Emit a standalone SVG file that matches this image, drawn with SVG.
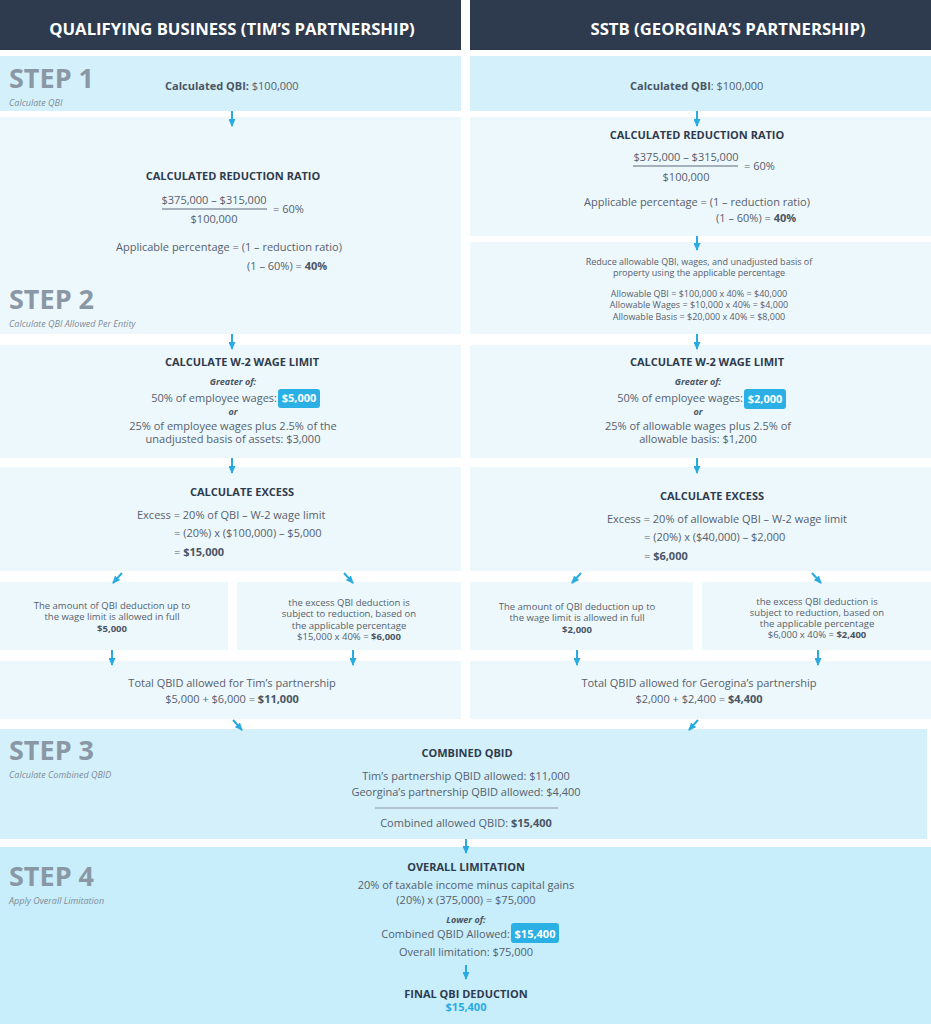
<svg xmlns="http://www.w3.org/2000/svg" width="931" height="1024" viewBox="0 0 931 1024">
<defs>
<marker id="ah" markerUnits="userSpaceOnUse" markerWidth="8" markerHeight="7" refX="7" refY="3.5" orient="auto">
<path d="M0,0 L8,3.5 L0,7 z" fill="#29abe2"/>
</marker>
<style>
text{font-family:"Open Sans","Liberation Sans",sans-serif;fill:#56606c;font-size:11px}
.h{font-weight:bold;fill:#2f3b4d}
.c{text-anchor:middle}
.e{text-anchor:end}
.b{font-weight:bold;fill:#4a5563}
.hd{font-weight:bold;fill:#ffffff;font-size:16.7px;text-anchor:middle}
.st{font-weight:bold;fill:#8a97a5;font-size:27px}
.sub{font-style:italic;fill:#7f8b98;font-size:9px}
.bi{font-weight:bold;font-style:italic;font-size:9px;fill:#4a5563}
.s9{font-size:9px}
.s95{font-size:9.5px}
.hl{font-weight:bold;fill:#ffffff;text-anchor:middle}
.navy{fill:#2e3b4e}
.p1{fill:#d4f1fb}
.p2{fill:#edf8fd}
.p4{fill:#c8eefb}
.hlr{fill:#2bb0e6}
.ar{stroke:#29abe2;stroke-width:2;fill:none;marker-end:url(#ah)}
.rule{stroke:#5f6b78;stroke-width:1}
</style>
</defs>
<rect width="931" height="1024" fill="#ffffff"/>

<g id="header-left">
<rect class="navy" x="0" y="0" width="461" height="50"/>
<text class="hd" x="232" y="35">QUALIFYING BUSINESS (TIM’S PARTNERSHIP)</text>
</g>
<g id="header-right">
<rect class="navy" x="470" y="0" width="461" height="50"/>
<text class="hd" x="728" y="35">SSTB (GEORGINA’S PARTNERSHIP)</text>
</g>

<g id="step1-left">
<rect class="p1" x="0" y="56" width="461" height="55"/>
<text class="st" x="9" y="88">STEP 1</text>
<text class="sub" x="9" y="106">Calculate QBI</text>
<text x="165" y="90"><tspan class="b">Calculated QBI:</tspan> $100,000</text>
</g>
<g id="step1-right">
<rect class="p1" x="470" y="56" width="461" height="55"/>
<text x="630" y="90"><tspan class="b">Calculated QBI</tspan>: $100,000</text>
</g>

<g id="step2-left">
<rect class="p2" x="0" y="117" width="461" height="217"/>
<text class="h c" x="233" y="180">CALCULATED REDUCTION RATIO</text>
<text class="c" x="214" y="204">$375,000 – $315,000</text>
<line class="rule" x1="162" y1="209" x2="267" y2="209"/>
<text class="c" x="214" y="223">$100,000</text>
<text x="273" y="213">= 60%</text>
<text x="116" y="251">Applicable percentage = (1 – reduction ratio)</text>
<text x="247" y="270">(1 – 60%) = <tspan class="b">40%</tspan></text>
<text class="st" x="9" y="309">STEP 2</text>
<text class="sub" x="9" y="327">Calculate QBI Allowed Per Entity</text>
</g>
<g id="step2-right-ratio">
<rect class="p2" x="470" y="117" width="461" height="119"/>
<text class="h c" x="697" y="139">CALCULATED REDUCTION RATIO</text>
<text class="c" x="686" y="161">$375,000 – $315,000</text>
<line class="rule" x1="633" y1="166" x2="738" y2="166"/>
<text class="c" x="686" y="181">$100,000</text>
<text x="744" y="170">= 60%</text>
<text x="584" y="206">Applicable percentage = (1 – reduction ratio)</text>
<text x="716" y="222">(1 – 60%) = <tspan class="b">40%</tspan></text>
</g>
<g id="step2-right-reduce">
<rect class="p2" x="470" y="242" width="461" height="92"/>
<text class="c s9" x="699" y="265">Reduce allowable QBI, wages, and unadjusted basis of</text>
<text class="c s9" x="699" y="276">property using the applicable percentage</text>
<text class="c s9" x="699" y="297">Allowable QBI = $100,000 x 40% = $40,000</text>
<text class="c s9" x="699" y="308">Allowable Wages = $10,000 x 40% = $4,000</text>
<text class="c s9" x="699" y="320">Allowable Basis = $20,000 x 40% = $8,000</text>
</g>

<g id="w2-left">
<rect class="p2" x="0" y="345" width="461" height="113"/>
<text class="h c" x="242" y="366">CALCULATE W-2 WAGE LIMIT</text>
<text class="bi c" x="233" y="385">Greater of:</text>
<text class="e" x="277" y="402">50% of employee wages:</text>
<rect class="hlr" x="278" y="389" width="42" height="19" rx="3"/>
<text class="hl" x="299" y="402">$5,000</text>
<text class="bi c" x="233" y="415">or</text>
<text class="c" x="233" y="430">25% of employee wages plus 2.5% of the</text>
<text class="c" x="233" y="443">unadjusted basis of assets: $3,000</text>
</g>
<g id="w2-right">
<rect class="p2" x="470" y="345" width="461" height="113"/>
<text class="h c" x="707" y="366">CALCULATE W-2 WAGE LIMIT</text>
<text class="bi c" x="698" y="385">Greater of:</text>
<text class="e" x="743" y="402">50% of employee wages:</text>
<rect class="hlr" x="744" y="389" width="42" height="20" rx="3"/>
<text class="hl" x="765" y="403">$2,000</text>
<text class="bi c" x="698" y="415">or</text>
<text class="c" x="698" y="430">25% of allowable wages plus 2.5% of</text>
<text class="c" x="698" y="443">allowable basis: $1,200</text>
</g>

<g id="excess-left">
<rect class="p2" x="0" y="467" width="461" height="104"/>
<text class="h c" x="242" y="496">CALCULATE EXCESS</text>
<text x="137" y="519">Excess = 20% of QBI – W-2 wage limit</text>
<text x="174" y="537">= (20%) x ($100,000) – $5,000</text>
<text x="174" y="556">= <tspan class="b">$15,000</tspan></text>
</g>
<g id="excess-right">
<rect class="p2" x="470" y="467" width="461" height="104"/>
<text class="h c" x="712" y="500">CALCULATE EXCESS</text>
<text x="607" y="523">Excess = 20% of allowable QBI – W-2 wage limit</text>
<text x="644" y="541">= (20%) x ($40,000) – $2,000</text>
<text x="644" y="560">= <tspan class="b">$6,000</tspan></text>
</g>

<g id="full-left">
<rect class="p2" x="0" y="582" width="228" height="68"/>
<text class="c s95" x="112" y="609">The amount of QBI deduction up to</text>
<text class="c s95" x="112" y="620">the wage limit is allowed in full</text>
<text class="c s95 b" x="112" y="632">$5,000</text>
</g>
<g id="reduced-left">
<rect class="p2" x="237" y="582" width="224" height="68"/>
<text class="c s95" x="349" y="606">the excess QBI deduction is</text>
<text class="c s95" x="349" y="617">subject to reduction, based on</text>
<text class="c s95" x="349" y="629">the applicable percentage</text>
<text class="c s95" x="349" y="640">$15,000 x 40% = <tspan class="b">$6,000</tspan></text>
</g>
<g id="full-right">
<rect class="p2" x="470" y="582" width="223" height="68"/>
<text class="c s95" x="577" y="610">The amount of QBI deduction up to</text>
<text class="c s95" x="577" y="621">the wage limit is allowed in full</text>
<text class="c s95 b" x="577" y="633">$2,000</text>
</g>
<g id="reduced-right">
<rect class="p2" x="702" y="582" width="229" height="68"/>
<text class="c s95" x="817" y="605">the excess QBI deduction is</text>
<text class="c s95" x="817" y="616">subject to reduction, based on</text>
<text class="c s95" x="817" y="627">the applicable percentage</text>
<text class="c s95" x="817" y="638">$6,000 x 40% = <tspan class="b">$2,400</tspan></text>
</g>

<g id="total-left">
<rect class="p2" x="0" y="661" width="461" height="58"/>
<text class="c" x="232" y="687">Total QBID allowed for Tim’s partnership</text>
<text class="c" x="232" y="703">$5,000 + $6,000 = <tspan class="b">$11,000</tspan></text>
</g>
<g id="total-right">
<rect class="p2" x="470" y="661" width="461" height="58"/>
<text class="c" x="699" y="687">Total QBID allowed for Gerogina’s partnership</text>
<text class="c" x="699" y="703">$2,000 + $2,400 = <tspan class="b">$4,400</tspan></text>
</g>

<g id="step3">
<rect class="p1" x="0" y="729" width="927" height="110"/>
<text class="st" x="9" y="760">STEP 3</text>
<text class="sub" x="9" y="778">Calculate Combined QBID</text>
<text class="h c" x="467" y="757">COMBINED QBID</text>
<text class="c" x="466" y="780">Tim’s partnership QBID allowed: $11,000</text>
<text class="c" x="466" y="796">Georgina’s partnership QBID allowed: $4,400</text>
<line x1="375" y1="808" x2="558" y2="808" stroke="#8a96a3" stroke-width="1"/>
<text class="c" x="466" y="827">Combined allowed QBID: <tspan class="b">$15,400</tspan></text>
</g>

<g id="step4">
<rect class="p4" x="0" y="847" width="931" height="177"/>
<text class="st" x="9" y="886">STEP 4</text>
<text class="sub" x="9" y="904">Apply Overall Limitation</text>
<text class="h c" x="466" y="871">OVERALL LIMITATION</text>
<text class="c" x="466" y="889">20% of taxable income minus capital gains</text>
<text class="c" x="466" y="904">(20%) x (375,000) = $75,000</text>
<text class="bi c" x="466" y="923">Lower of:</text>
<text class="e" x="510" y="938">Combined QBID Allowed:</text>
<rect class="hlr" x="511" y="923" width="48" height="20" rx="3"/>
<text class="hl" x="535" y="938">$15,400</text>
<text class="c" x="466" y="956">Overall limitation: $75,000</text>
<text class="h c" x="466" y="998">FINAL QBI DEDUCTION</text>
<text class="c" x="466" y="1011" style="font-weight:bold;fill:#29abe2">$15,400</text>
</g>

<g id="connectors">
<line class="ar" x1="232" y1="111" x2="232" y2="126"/>
<line class="ar" x1="697" y1="111" x2="697" y2="126"/>
<line class="ar" x1="697" y1="236" x2="697" y2="250"/>
<line class="ar" x1="232" y1="334" x2="232" y2="349"/>
<line class="ar" x1="697" y1="334" x2="697" y2="349"/>
<line class="ar" x1="232" y1="458" x2="232" y2="473"/>
<line class="ar" x1="697" y1="458" x2="697" y2="473"/>
<line class="ar" x1="122" y1="573" x2="113" y2="583"/>
<line class="ar" x1="344" y1="573" x2="353" y2="583"/>
<line class="ar" x1="581" y1="573" x2="572" y2="583"/>
<line class="ar" x1="812" y1="573" x2="821" y2="583"/>
<line class="ar" x1="112" y1="650" x2="112" y2="665"/>
<line class="ar" x1="353" y1="650" x2="353" y2="665"/>
<line class="ar" x1="577" y1="650" x2="577" y2="665"/>
<line class="ar" x1="818" y1="650" x2="818" y2="665"/>
<line class="ar" x1="233" y1="720" x2="242" y2="730"/>
<line class="ar" x1="698" y1="720" x2="689" y2="730"/>
<line class="ar" x1="466" y1="839" x2="466" y2="853"/>
<line class="ar" x1="466" y1="965" x2="466" y2="979"/>
</g>
</svg>
